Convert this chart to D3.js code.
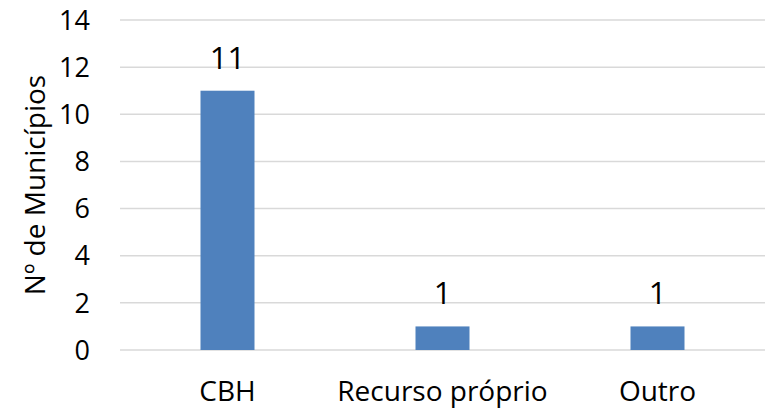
<!doctype html>
<html>
<head>
<meta charset="utf-8"/>
<script src="https://d3js.org/d3.v7.min.js"></script>
<style>
  body { margin: 0; background: #fff; }
  text { font-family: "Open Sans", "Liberation Sans", sans-serif; fill: #000; }
</style>
</head>
<body>
<script>
// data
const categories = ["CBH", "Recurso próprio", "Outro"];
const values = [11, 1, 1];
const yTicks = [0, 2, 4, 6, 8, 10, 12, 14];
const yTitle = "Nº de Municípios";

const W = 765, H = 409;
const m = { left: 120, right: 0, top: 20, bottom: 59 };

let svg = d3.select("body").append("svg").attr("width", W).attr("height", H);

var x = d3.scaleBand().domain(categories).range([m.left, W - m.right]).paddingInner(0).paddingOuter(0);
var y = d3.scaleLinear().domain([0, 14]).range([H - m.bottom, m.top]);
const barW = 54;

// gridlines
svg.selectAll(".grid")
   .data(yTicks)
   .enter().append("line")
    .attr("x1", m.left).attr("x2", W - m.right)
    .attr("y1", d => y(d)).attr("y2", d => y(d))
    .style("stroke", "#d9d9d9")
    .style("stroke-width", 1.5);

// tick labels
svg.selectAll(".ytick")
   .data(yTicks)
   .enter().append("text")
    .attr("x", 90)
    .attr("y", d => y(d))
    .attr("dy", "0.36em")
    .attr("text-anchor", "end")
    .style("font-size", "27px")
    .text(d => d);

// bars
svg.selectAll(".bar")
   .data(values)
   .enter().append("rect")
    .attr("x", (d, i) => x(categories[i]) + x.bandwidth() / 2 - barW / 2)
    .attr("width", barW)
    .attr("y", d => y(d))
    .attr("height", d => y(0) - y(d))
    .style("fill", "#4f81bd");

// value labels
svg.selectAll(".val")
   .data(values)
   .enter().append("text")
    .attr("x", (d, i) => x(categories[i]) + x.bandwidth() / 2)
    .attr("y", d => y(d) - 22)
    .attr("text-anchor", "middle")
    .style("font-size", "31px")
    .text(d => d);

// category labels
svg.selectAll(".cat")
   .data(categories)
   .enter().append("text")
    .attr("x", d => x(d) + x.bandwidth() / 2)
    .attr("y", 401)
    .attr("text-anchor", "middle")
    .style("font-size", "28px")
    .text(d => d);

// axis title
svg.append("text")
   .attr("transform", `translate(45,${(y(0) + y(14)) / 2}) rotate(-90)`)
   .attr("text-anchor", "middle")
   .style("font-size", "28px")
   .text(yTitle);
</script>
</body>
</html>
